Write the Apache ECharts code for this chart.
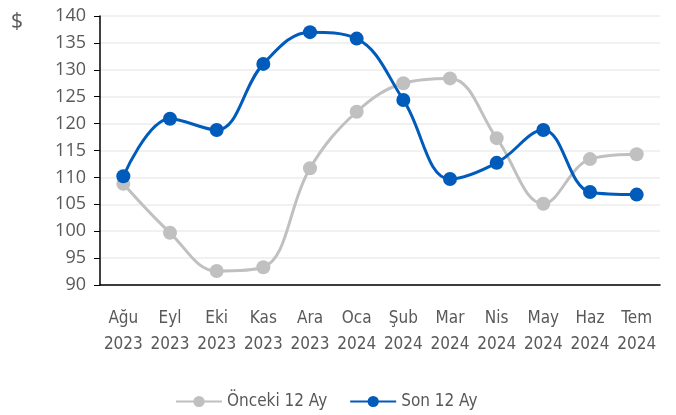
<!DOCTYPE html>
<html>
<head>
<meta charset="utf-8">
<script src="https://cdn.jsdelivr.net/npm/echarts@6/dist/echarts.min.js"></script>
<style>
  html, body { margin: 0; padding: 0; background: #fff; }
  #main { width: 676px; height: 415px; }
</style>
</head>
<body>
<div id="main"></div>
<script>
const months = ['Ağu', 'Eyl', 'Eki', 'Kas', 'Ara', 'Oca', 'Şub', 'Mar', 'Nis', 'May', 'Haz', 'Tem'];
const years = ['2023', '2023', '2023', '2023', '2023', '2024', '2024', '2024', '2024', '2024', '2024', '2024'];
const onceki = [108.8, 99.7, 92.6, 93.3, 111.7, 122.2, 127.5, 128.4, 117.3, 105.1, 113.4, 114.3];
const son = [110.2, 120.9, 118.8, 131.1, 137.0, 135.8, 124.4, 109.7, 112.7, 118.8, 107.3, 106.8];

const narrow = "'DejaVu Sans Condensed', 'Liberation Sans Narrow', Lato, sans-serif";
const categories = months.map((m, i) => m + '\n' + years[i]);

let myChart = echarts.init(document.getElementById('main'));
let option = {
  animation: false,
  grid: { left: 100, right: 16, top: 16, bottom: 130 },
  graphic: [
    { type: 'text', left: 11, top: 12, style: { text: '$', fontSize: 21, fill: '#595959', fontFamily: "'Open Sans', sans-serif" } }
  ],
  legend: {
    left: 170,
    top: 388,
    itemWidth: 46,
    itemHeight: 14,
    itemGap: 22,
    textStyle: { fontSize: 17, color: '#595959', fontFamily: narrow },
    data: ['Önceki 12 Ay', 'Son 12 Ay']
  },
  xAxis: {
    type: 'category',
    data: categories,
    boundaryGap: true,
    axisLine: { lineStyle: { color: '#000', width: 1.5 } },
    axisTick: { alignWithLabel: true, length: 6, lineStyle: { color: '#000' } },
    axisLabel: { color: '#595959', fontSize: 17, fontFamily: narrow, lineHeight: 26, margin: 21, interval: 0 }
  },
  yAxis: {
    type: 'value',
    min: 90,
    max: 140,
    interval: 5,
    axisLine: { show: true, lineStyle: { color: '#000', width: 1.5 } },
    axisTick: { show: true, length: 6, lineStyle: { color: '#000' } },
    axisLabel: { color: '#595959', fontSize: 18, fontFamily: "'Open Sans', sans-serif", margin: 14 },
    splitLine: { lineStyle: { color: '#ececec', width: 1.5 } }
  },
  series: [
    {
      name: 'Önceki 12 Ay',
      type: 'line',
      smooth: 0.38,
      smoothConstraint: false,
      data: onceki,
      symbol: 'circle',
      symbolSize: 14,
      lineStyle: { color: '#c0c0c0', width: 3 },
      itemStyle: { color: '#c0c0c0' }
    },
    {
      name: 'Son 12 Ay',
      type: 'line',
      smooth: 0.38,
      smoothConstraint: false,
      data: son,
      symbol: 'circle',
      symbolSize: 14,
      lineStyle: { color: '#005bbb', width: 3 },
      itemStyle: { color: '#005bbb' }
    }
  ]
};
myChart.setOption(option);
</script>
</body>
</html>
